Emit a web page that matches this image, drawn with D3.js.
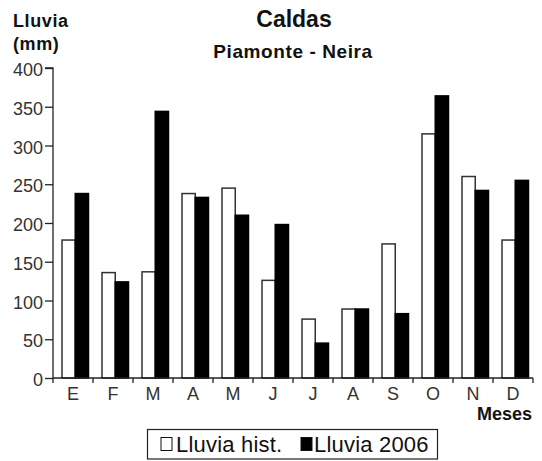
<!DOCTYPE html>
<html>
<head>
<meta charset="utf-8">
<script src="https://cdn.jsdelivr.net/npm/d3@7"></script>
<style>
  html, body { margin: 0; padding: 0; background: #fff; }
  svg { display: block; font-family: "Liberation Sans", Arial, sans-serif; }
</style>
</head>
<body>
<svg id="chart" width="542" height="461"></svg>
<script>
const months = ["E","F","M","A","M","J","J","A","S","O","N","D"];
const seriesNames = ["Lluvia hist.", "Lluvia 2006"];
const lluviaHist = [178, 136, 137, 238, 245, 126, 76, 89, 173, 315, 260, 178];
const lluvia2006 = [238, 124, 344, 233, 210, 198, 45, 89, 83, 364, 242, 255];
const yTicks = [0, 50, 100, 150, 200, 250, 300, 350, 400];
const seriesFill = ["#ffffff", "#000000"];

const svg = d3.select("#chart");
const mLeft = 53, mRight = 533, mTop = 68, mBottom = 378;

const idx = months.map((m, i) => i);
const x0 = d3.scaleBand().domain(idx).range([mLeft, mRight]).padding(0);
const x1 = d3.scaleBand().domain([0, 1]).range([9, 35.5]).padding(0);
const y = d3.scaleLinear().domain([0, 400]).range([mBottom, mTop]);

const data = idx.map(i => [lluviaHist[i], lluvia2006[i]]);

// bars
const g = svg.append("g");
data.forEach((vals, i) => {
  vals.forEach((v, s) => {
    g.append("rect")
      .attr("x", x0(i) + x1(s))
      .attr("y", y(v))
      .attr("width", x1.bandwidth())
      .attr("height", y(0) - y(v))
      .attr("fill", seriesFill[s])
      .attr("stroke", s === 0 ? "#333" : "#000")
      .attr("stroke-width", 1.5);
  });
});

// Y axis
const yAxis = d3.axisLeft(y).tickValues(yTicks).tickSize(8).tickPadding(2);
const ya = svg.append("g").attr("transform", `translate(${mLeft},0)`).call(yAxis);
ya.select(".domain").attr("d", `M-8,${mTop}H0V${mBottom}`).attr("stroke", "#222").attr("stroke-width", 1.3);
ya.selectAll(".tick line").attr("stroke", "#222").attr("stroke-width", 1.3);
ya.selectAll(".tick text")
  .attr("font-size", 18).attr("fill", "#333")
  .attr("font-family", "Liberation Sans, Arial, sans-serif")
  .attr("dy", "0.42em");

// X axis
const xa = svg.append("g").attr("transform", `translate(0,${mBottom})`);
xa.append("line").attr("x1", mLeft).attr("x2", mRight).attr("y1", 0).attr("y2", 0)
  .attr("stroke", "#222").attr("stroke-width", 1.3);
const bounds = idx.map(i => x0(i)).concat([mRight]);
xa.selectAll("line.tk").data(bounds).join("line").attr("class", "tk")
  .attr("x1", d => d).attr("x2", d => d).attr("y1", 0).attr("y2", 5)
  .attr("stroke", "#222").attr("stroke-width", 1.3);
xa.selectAll("text").data(idx).join("text")
  .attr("x", i => x0(i) + x0.bandwidth() / 2)
  .attr("y", 22)
  .attr("text-anchor", "middle")
  .attr("font-size", 18).attr("fill", "#333")
  .text(i => months[i]);

// titles
svg.append("text").attr("x", 294).attr("y", 27).attr("text-anchor", "middle")
  .attr("font-size", 23).attr("font-weight", "bold").attr("fill", "#111").text("Caldas");
svg.append("text").attr("x", 293).attr("y", 58).attr("text-anchor", "middle")
  .attr("font-size", 19).attr("font-weight", "bold").attr("fill", "#111")
  .attr("letter-spacing", 0.6).text("Piamonte - Neira");
svg.append("text").attr("x", 13).attr("y", 27)
  .attr("font-size", 18).attr("font-weight", "bold").attr("fill", "#111")
  .attr("letter-spacing", 0.6).text("Lluvia");
svg.append("text").attr("x", 13).attr("y", 50)
  .attr("font-size", 18).attr("font-weight", "bold").attr("fill", "#111")
  .attr("letter-spacing", 0.6).text("(mm)");
svg.append("text").attr("x", 532).attr("y", 420).attr("text-anchor", "end")
  .attr("font-size", 18).attr("font-weight", "bold").attr("fill", "#111")
  .text("Meses");

// legend
const lg = svg.append("g");
lg.append("rect").attr("x", 147.5).attr("y", 429.5).attr("width", 290).attr("height", 29.5)
  .attr("fill", "#fff").attr("stroke", "#222").attr("stroke-width", 1.2);
const legX = [[161, 176], [301, 314]];
seriesNames.forEach((name, s) => {
  lg.append("rect").attr("x", legX[s][0]).attr("y", 437.5).attr("width", 11).attr("height", 13)
    .attr("fill", seriesFill[s]).attr("stroke", "#111").attr("stroke-width", 1);
  lg.append("text").attr("x", legX[s][1]).attr("y", 452)
    .attr("font-size", 22).attr("fill", "#111").attr("letter-spacing", 0.2).text(name);
});
</script>
</body>
</html>
